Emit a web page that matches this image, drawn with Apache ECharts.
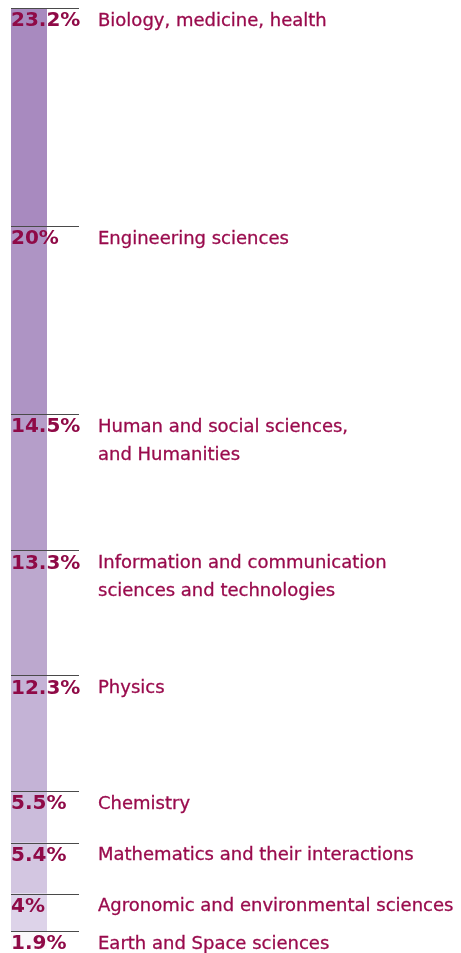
<!DOCTYPE html>
<html>
<head>
<meta charset="utf-8">
<script src="https://cdn.jsdelivr.net/npm/echarts@6/dist/echarts.min.js"></script>
<style>html,body{margin:0;padding:0;background:#fff;}#c{width:461px;height:953px;}</style>
</head>
<body>
<div id="c"></div>
<script>
const categories = [
  "Biology, medicine, health",
  "Engineering sciences",
  "Human and social sciences,\nand Humanities",
  "Information and communication\nsciences and technologies",
  "Physics",
  "Chemistry",
  "Mathematics and their interactions",
  "Agronomic and environmental sciences",
  "Earth and Space sciences"
];
const values = [23.2, 20, 14.5, 13.3, 12.3, 5.5, 5.4, 4, 1.9];
const percentLabels = ["23.2%", "20%", "14.5%", "13.3%", "12.3%", "5.5%", "5.4%", "4%", "1.9%"];
const colors = ["#a88abf", "#ae94c4", "#b59ec9", "#bca8ce", "#c4b3d6", "#cbbcdb", "#d3c6e1", "#ddd3e9", "#faf8fb"];

const total = values.reduce((a, b) => a + b, 0);
const starts = [];
let acc = 0;
values.forEach(v => { starts.push([0, acc]); acc += v; });

const textColor = "#990a4c";

const series = values.map((v, i) => ({
  type: 'bar',
  stack: 'total',
  barWidth: '100%',
  data: [v],
  itemStyle: { color: colors[i] },
  silent: true,
  label: {
    show: true,
    position: [0, -1],
    align: 'left',
    verticalAlign: 'top',
    formatter: function () {
      const lines = categories[i].split('\n');
      return lines.map((ln, k) => (k === 0 ? '{p|' + percentLabels[i] + '}' : '{s|}') + '{n|' + ln + '}').join('\n');
    },
    rich: {
      p: { fontFamily: 'DejaVu Sans', fontWeight: 'bold', fontSize: 20, color: '#8f0a47', width: 87, lineHeight: 28 },
      s: { width: 87, lineHeight: 28 },
      n: { fontFamily: 'DejaVu Sans', fontWeight: 'normal', fontSize: 18, color: textColor, lineHeight: 28, textBorderColor: textColor, textBorderWidth: 0.3 }
    }
  }
}));

series.push({
  type: 'custom',
  z: 5,
  silent: true,
  data: starts,
  encode: { x: 0, y: 1 },
  renderItem: function (params, api) {
    const p = api.coord([api.value(0), api.value(1)]);
    const bw = api.size([1, 0])[0];
    const x1 = p[0] - bw / 2;
    return {
      type: 'line',
      shape: { x1: x1, y1: Math.round(p[1]) + 0.5, x2: x1 + 68, y2: Math.round(p[1]) + 0.5 },
      style: { stroke: '#4a4a4a', lineWidth: 1 }
    };
  }
});

const chart = echarts.init(document.getElementById('c'), null, { renderer: 'canvas' });
chart.setOption({
  animation: false,
  backgroundColor: '#ffffff',
  grid: { left: 11, top: 8, width: 36, height: 941 },
  xAxis: { type: 'category', data: ['all'], show: false },
  yAxis: { type: 'value', inverse: true, min: 0, max: total, show: false },
  series: series
});
</script>
</body>
</html>
